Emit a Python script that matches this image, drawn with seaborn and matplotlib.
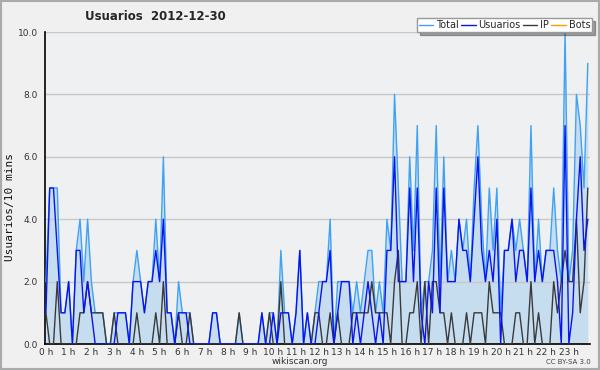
import numpy as np
import pandas as pd
import matplotlib
matplotlib.use("Agg")
import matplotlib.pyplot as plt
import seaborn as sns

title = "Usuarios  2012-12-30"
series_names = ["Total", "Usuarios", "IP", "Bots"]
hour_labels = [f"{h} h" for h in range(24)]

total = [2,5,5,5,1,1, 2,0,3,4,2,4, 2,1,1,1,0,0, 1,1,1,1,0,2,
         3,2,1,2,2,4, 2,6,1,1,0,2, 1,1,1,0,0,0, 0,0,1,1,0,0,
         0,0,0,1,0,0, 0,0,0,1,0,1, 1,0,3,1,1,0, 1,3,0,1,0,1,
         2,2,2,4,0,2, 2,2,2,1,2,1, 2,3,3,1,2,1, 4,3,8,5,2,2,
         6,3,7,1,2,2, 3,7,2,6,2,3, 2,4,3,4,2,5, 7,4,2,5,3,5,
         1,3,3,4,3,4, 3,2,7,2,4,2, 3,3,5,3,2,10, 2,3,8,7,5,9]
usuarios = [1,5,5,3,1,1, 2,0,3,3,1,2, 1,0,0,0,0,0, 0,1,1,1,0,2,
            2,2,1,2,2,3, 2,4,1,1,0,1, 1,1,0,0,0,0, 0,0,1,1,0,0,
            0,0,0,0,0,0, 0,0,0,1,0,0, 1,0,1,1,1,0, 1,3,0,1,0,0,
            1,2,2,3,0,1, 2,2,2,0,1,0, 1,2,1,0,1,0, 3,3,6,2,2,2,
            5,2,5,1,0,2, 1,5,1,5,2,2, 2,4,3,3,2,4, 6,3,2,3,2,4,
            0,3,3,4,2,3, 3,2,5,2,3,2, 3,3,3,2,0,7, 0,1,4,6,3,4]
ip = [1,0,0,2,0,0, 0,0,0,1,1,2, 1,1,1,1,0,0, 1,0,0,0,0,0,
      1,0,0,0,0,1, 0,2,0,0,0,1, 0,0,1,0,0,0, 0,0,0,0,0,0,
      0,0,0,1,0,0, 0,0,0,0,0,1, 0,0,2,0,0,0, 0,0,0,0,0,1,
      1,0,0,1,0,1, 0,0,0,1,1,1, 1,1,2,1,1,1, 1,0,2,3,0,0,
      1,1,2,0,2,0, 2,2,1,1,0,1, 0,0,0,1,0,1, 1,1,0,2,1,1,
      1,0,0,0,1,1, 0,0,2,0,1,0, 0,0,2,1,2,3, 2,2,4,1,2,5]
bots = [0] * 144

hours = np.arange(144) / 6.0
df = pd.DataFrame({"h": hours, "Total": total, "Usuarios": usuarios,
                   "IP": ip, "Bots": bots})

colors = {"Total": "#3fa2f2", "Usuarios": "#0a14f0", "IP": "#3a3a3a", "Bots": "#ff9900"}

sns.set_style("white")
plt.rcParams["font.family"] = ["DejaVu Sans"]

fig = plt.figure(figsize=(6, 3.7), dpi=100, facecolor="#f0f0f0")
ax = fig.add_axes([45/600, 1-344/370, 545/600, 312/370])
ax.set_facecolor("#eff0f2")

ax.fill_between(df["h"], df["Total"], 0, color="#c6ddf0", lw=0, zorder=1)
for y in [2, 4, 6, 8, 10]:
    ax.axhline(y, color="#c8c8c8", lw=1, zorder=1.5)

sns.lineplot(data=df, x="h", y="Bots", color=colors["Bots"], lw=1, ax=ax, zorder=2, label="Bots")
sns.lineplot(data=df, x="h", y="Total", color=colors["Total"], lw=1, ax=ax, zorder=3, label="Total")
sns.lineplot(data=df, x="h", y="IP", color=colors["IP"], lw=1, ax=ax, zorder=4, label="IP")
sns.lineplot(data=df, x="h", y="Usuarios", color=colors["Usuarios"], lw=1, ax=ax, zorder=5, label="Usuarios")

ax.set_xlim(-0.04, 23.93)
ax.set_ylim(0, 10)
for s in ["top", "right"]:
    ax.spines[s].set_visible(False)
for s in ["left", "bottom"]:
    ax.spines[s].set_color("black")
    ax.spines[s].set_linewidth(1.2)

ax.set_yticks([0, 2, 4, 6, 8, 10])
ax.set_yticklabels([f"{v:.1f}" for v in [0, 2, 4, 6, 8, 10]], fontsize=6.5)
ax.set_yticks(np.arange(0, 10.01, 0.5), minor=True)
ax.set_xticks(np.arange(24))
ax.set_xticklabels(hour_labels, fontsize=6.5)
ax.set_xticks(np.arange(0, 24, 1/6), minor=True)
ax.tick_params(axis="y", which="major", direction="out", length=4, width=1, pad=1, colors="black")
ax.tick_params(axis="x", which="major", direction="out", length=3, width=1, pad=0, colors="black")
ax.tick_params(axis="both", which="minor", direction="out", length=3, width=0.8, colors="black")
for lab in ax.get_xticklabels() + ax.get_yticklabels():
    lab.set_color("#333333")
ax.set_xlabel("")
ax.set_ylabel("")
fig.text(10/600, 1-207/370, "Usuarios/10 mins", fontsize=8, family="DejaVu Sans Mono",
         rotation=90, ha="center", va="center", color="#111111")

fig.text(85/600, 1-17/370, title, fontsize=8.5, fontweight="bold", va="center", ha="left")
fig.text(300/600, 1-362/370, "wikiscan.org", fontsize=6.5, ha="center", va="center", color="#333333")
fig.text(591/600, 1-362/370, "CC BY-SA 3.0", fontsize=5, ha="right", va="center", color="#444444")

handles, labels = ax.get_legend_handles_labels()
order = [labels.index(n) for n in series_names]
leg = ax.legend([handles[i] for i in order], [labels[i] for i in order],
                ncol=4, loc="upper right", bbox_to_anchor=(1.004, 1.045),
                fontsize=7, frameon=True, fancybox=False, shadow=True,
                handlelength=1.5, handletextpad=0.3, columnspacing=0.2,
                borderpad=0.2, borderaxespad=0)
leg.get_frame().set_edgecolor("#999999")
leg.get_frame().set_facecolor("white")
leg.set_zorder(10)

border = plt.Rectangle((0.001, 0.002), 0.997, 0.996, transform=fig.transFigure,
                       fill=False, edgecolor="#aaaaaa", lw=1.5)
fig.patches.append(border)

fig.savefig("out.png", dpi=100, facecolor=fig.get_facecolor())
